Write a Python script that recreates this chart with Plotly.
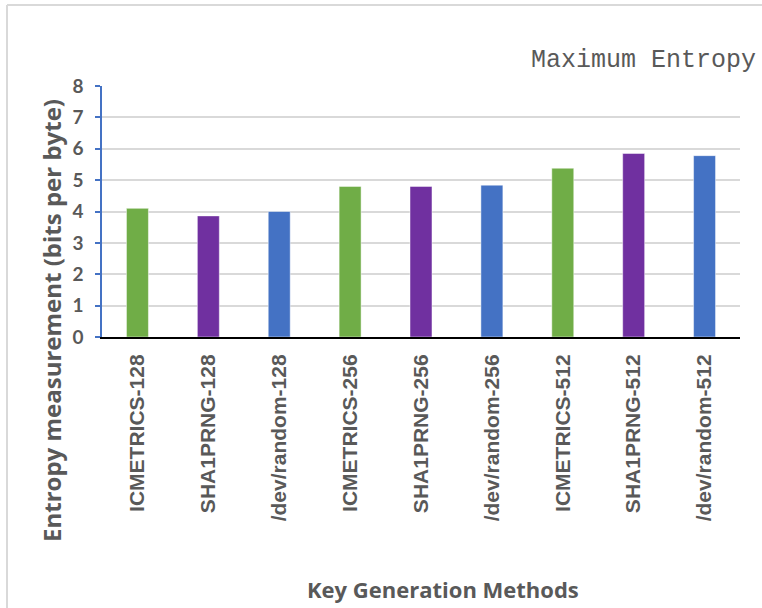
import plotly.graph_objects as go

# Entropy per byte for each key generation method
methods = [
    "ICMETRICS-128", "SHA1PRNG-128", "/dev/random-128",
    "ICMETRICS-256", "SHA1PRNG-256", "/dev/random-256",
    "ICMETRICS-512", "SHA1PRNG-512", "/dev/random-512",
]
entropy = [4.1, 3.86, 4.0, 4.8, 4.8, 4.84, 5.38, 5.85, 5.78]
bar_colors = ["#70AD47", "#7030A0", "#4472C4"] * 3
y_ticks = [0, 1, 2, 3, 4, 5, 6, 7, 8]

W, H = 762, 608
L, R, T, B = 102, 22, 86, 271
PW, PH = W - L - R, H - T - B


def px(x):
    return (x - L) / PW


def py(y):
    return (H - B - y) / PH


grey = "#595959"

fig = go.Figure(
    go.Bar(
        x=methods,
        y=entropy,
        marker=dict(color=bar_colors, line=dict(color="rgba(255,255,255,0.6)", width=0.8)),
        hoverinfo="x+y",
    )
)

fig.update_layout(
    width=W,
    height=H,
    margin=dict(l=L, r=R, t=T, b=B),
    paper_bgcolor="white",
    plot_bgcolor="white",
    bargap=0.69,
    showlegend=False,
    xaxis=dict(
        type="category",
        tickangle=-90,
        tickfont=dict(family="Liberation Sans, Arial, sans-serif", size=21, color=grey, weight="bold"),
        showline=True,
        linecolor="black",
        linewidth=2,
        showgrid=False,
        ticks="",
        ticklabelstandoff=7,
    ),
    yaxis=dict(
        range=[0, 8],
        tickvals=y_ticks,
        tickfont=dict(family="Lato, sans-serif", size=19, color=grey, weight="bold"),
        showline=True,
        linecolor="#4472C4",
        linewidth=1.5,
        ticks="outside",
        ticklen=5,
        tickwidth=1.5,
        tickcolor="#4472C4",
        showgrid=True,
        gridcolor="#D9D9D9",
        gridwidth=1.5,
        zeroline=False,
        ticklabelstandoff=8,
    ),
    shapes=[
        dict(type="line", xref="paper", yref="paper",
             x0=px(7), x1=px(W + 20), y0=py(5), y1=py(5),
             line=dict(color="#D9D9D9", width=2)),
        dict(type="line", xref="paper", yref="paper",
             x0=px(7), x1=px(7), y0=py(5), y1=py(H + 20),
             line=dict(color="#D9D9D9", width=2)),
    ],
    annotations=[
        dict(text="Entropy measurement (bits per byte)", xref="paper", yref="paper",
             x=px(51), y=py(321), xanchor="center", yanchor="middle", textangle=-90,
             showarrow=False,
             font=dict(family="Open Sans, sans-serif", size=24, color=grey, weight="bold")),
        dict(text="Key Generation Methods", xref="paper", yref="paper",
             x=px(443), y=py(589), xanchor="center", yanchor="middle",
             showarrow=False,
             font=dict(family="Open Sans, sans-serif", size=22, color=grey, weight="bold")),
        dict(text="Maximum Entropy", xref="paper", yref="paper",
             x=px(758), y=py(60), xanchor="right", yanchor="middle",
             showarrow=False,
             font=dict(family="Courier New, Liberation Mono, monospace", size=25, color=grey)),
    ],
)

fig.write_html("out.html")
